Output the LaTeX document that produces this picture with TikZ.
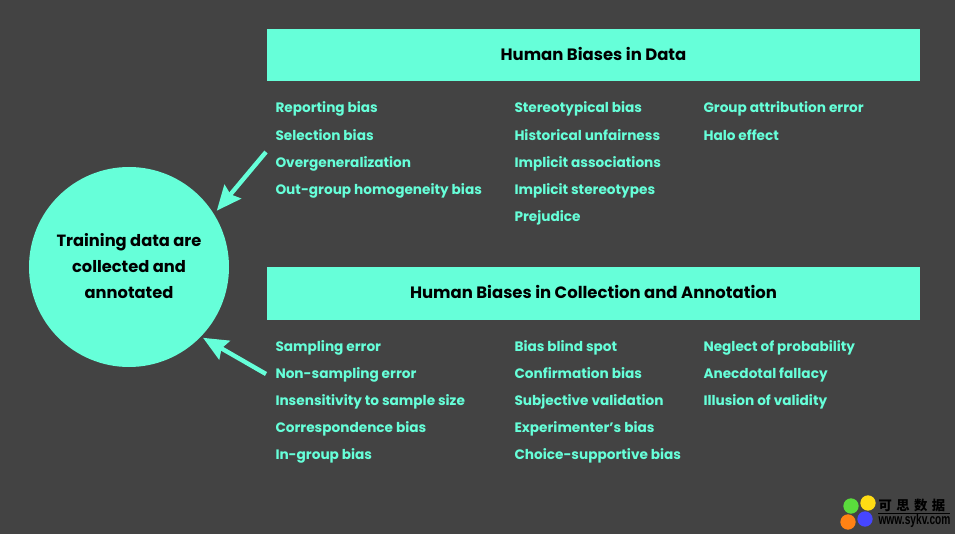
\documentclass[tikz,border=0pt]{standalone}
\usepackage{fontspec}
\setmainfont{Poppins}
\newfontfamily\cjkfont{Noto Sans CJK SC}
\newfontfamily\logofont{Liberation Sans}
\usepackage{tikz}
\usetikzlibrary{arrows.meta}
\definecolor{bgdark}{RGB}{67,67,67}
\definecolor{mint}{RGB}{102,255,217}
\tikzset{every picture/.style={line width=0.75pt}}
\tikzset{
  biasbox/.style={fill=mint,anchor=north west,inner sep=0pt,minimum width=489.75pt,font=\fontsize{12.35}{15}\selectfont\bfseries,text=black,text height=11.5pt,text depth=4.5pt},
  biasitem/.style={anchor=west,inner sep=0.75pt,text=mint,text height=9.5pt,text depth=1pt,font=\fontsize{10.25}{14}\selectfont\bfseries},
  biasarrow/.style={draw=mint,line width=3.3pt,-{Stealth[length=18.5pt,width=16pt,inset=2.5pt]}},
  logodot/.style={circle,inner sep=0pt,minimum size=11.5pt}
}

\begin{document}
\begin{tikzpicture}[x=0.75pt,y=0.75pt,yscale=-1,xscale=1]
\fill [bgdark] (0,0) rectangle (955,534);

%Shape: Circle
\node (traincircle) [circle,fill=mint,inner sep=0pt,minimum size=150pt] at (129,267) {};
% Text Node
\node (traintext) [align=center,inner sep=0pt,font=\fontsize{12.2}{19.5}\selectfont\bfseries] at (129,266.5) {Training data are\\collected and\\annotated};

%Rect
\node (databox) [biasbox,minimum height=39pt] at (266.5,29) {Human Biases in Data};
\node (collectbox) [biasbox,minimum height=39.4pt] at (266.5,267) {Human Biases in Collection and Annotation};

%Straight Lines
\coordinate (datastart) at (266,152);
\coordinate (collectstart) at (266,374);
\draw [biasarrow,shorten >=3pt] (datastart) -- (traincircle.32);
\draw [biasarrow,shorten >=1.5pt] (collectstart) -- (traincircle.-44);

% Text Node
\node (rep) [biasitem] at (274,107) {Reporting bias};
\node (sel) [biasitem] at (274,135) {Selection bias};
\node (over) [biasitem] at (274,162) {Overgeneralization};
\node (out) [biasitem] at (274,189) {Out-group homogeneity bias};
\node (ster) [biasitem] at (513,107) {Stereotypical bias};
\node (hist) [biasitem] at (513,135) {Historical unfairness};
\node (impa) [biasitem] at (513,162) {Implicit associations};
\node (imps) [biasitem] at (513,189) {Implicit stereotypes};
\node (prej) [biasitem] at (513,216) {Prejudice};
\node (group) [biasitem] at (702,107) {Group attribution error};
\node (halo) [biasitem] at (702,135) {Halo effect};

% Text Node
\node (samp) [biasitem] at (274,346) {Sampling error};
\node (nons) [biasitem] at (274,373) {Non-sampling error};
\node (insen) [biasitem] at (274,400) {Insensitivity to sample size};
\node (corr) [biasitem] at (274,427) {Correspondence bias};
\node (ingr) [biasitem] at (274,454) {In-group bias};
\node (blind) [biasitem] at (513,346) {Bias blind spot};
\node (conf) [biasitem] at (513,373) {Confirmation bias};
\node (subj) [biasitem] at (513,400) {Subjective validation};
\node (expe) [biasitem] at (513,427) {Experimenter's bias};
\node (choi) [biasitem] at (513,454) {Choice-supportive bias};
\node (negl) [biasitem] at (702,346) {Neglect of probability};
\node (anec) [biasitem] at (702,373) {Anecdotal fallacy};
\node (illu) [biasitem] at (702,400) {Illusion of validity};

%Logo
\node (logogreen) [logodot,fill={rgb,255:red,90;green,220;blue,60}] at (851,506) {};
\node (logoyellow) [logodot,fill={rgb,255:red,255;green,220;blue,20}] at (868,503) {};
\node (logoorange) [logodot,fill={rgb,255:red,255;green,130;blue,20}] at (848,522) {};
\node (logoblue) [logodot,fill={rgb,255:red,70;green,70;blue,255}] at (865,519) {};
\node (logocn) [inner sep=0pt,anchor=west,font=\cjkfont\bfseries\fontsize{10}{10}\selectfont] at (878,505) {可\,\,思\,\,数\,\,据};
\node (logourl) [inner sep=0pt,anchor=west,font=\logofont\bfseries] at (878,521) {\resizebox{54pt}{8pt}{www.sykv.com}};
\draw [black,line width=1pt] (878,513.5) -- (950,513.5);
\end{tikzpicture}
\end{document}
